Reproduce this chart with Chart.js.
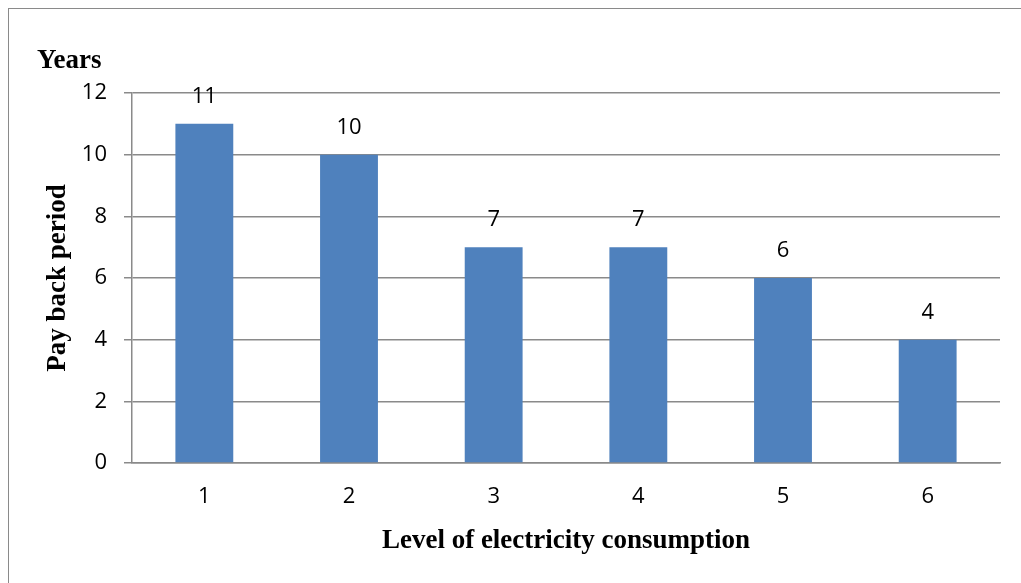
<!DOCTYPE html>
<html>
<head>
<meta charset="utf-8">
<script src="https://cdn.jsdelivr.net/npm/chart.js@4.4.1/dist/chart.umd.min.js"></script>
<style>
  html, body { margin: 0; padding: 0; background: #fff; overflow: hidden; }
  #wrap { position: relative; width: 1021px; height: 583px; }
  #frame { position: absolute; left: 8px; top: 8px; width: 2000px; height: 2000px; border: 1px solid #8a8a8a; }
  #canvas { position: absolute; left: 0; top: 0; }
</style>
</head>
<body>
<div id="wrap">
  <div id="frame"></div>
  <canvas id="canvas" width="1021" height="583"></canvas>
</div>
<script>
const levels = ["1", "2", "3", "4", "5", "6"];
const payback = [11, 10, 7, 7, 6, 4];
const yTicks = [0, 2, 4, 6, 8, 10, 12];

const canvas = document.getElementById("canvas");

// numbers over each bar + the "Years" caption
const labelsPlugin = {
  id: "barLabels",
  afterDatasetsDraw(chart) {
    const ctx = chart.ctx;
    ctx.save();
    ctx.fillStyle = "#000";
    ctx.font = "22px 'Open Sans'";
    ctx.textAlign = "center";
    ctx.textBaseline = "middle";
    chart.getDatasetMeta(0).data.forEach((bar, i) => {
      ctx.fillText(payback[i], bar.x, bar.y - 27);
    });
    ctx.font = "bold 27px 'Liberation Serif'";
    ctx.textAlign = "left";
    ctx.textBaseline = "alphabetic";
    ctx.fillText("Years", 37, 68);
    ctx.restore();
  }
};

const myChart = new Chart(canvas, {
  type: "bar",
  data: {
    labels: levels,
    datasets: [
      {
        label: "Pay back period",
        data: payback,
        backgroundColor: "#4F81BD",
        barPercentage: 0.4,
        categoryPercentage: 1
      }
    ]
  },
  options: {
    responsive: false,
    animation: false,
    layout: { padding: { left: 0, top: 93, right: 21, bottom: 0 } },
    plugins: {
      legend: { display: false },
      tooltip: { enabled: false }
    },
    scales: {
      x: {
        afterFit(scale) { scale.height = 120; },
        grid: { display: false, drawTicks: false },
        border: { display: true, color: "#8a8a8a", width: 1.5 },
        ticks: { color: "#000", font: { family: "'Open Sans'", size: 22 }, padding: 21 },
        title: {
          display: true,
          text: "Level of electricity consumption",
          color: "#000",
          font: { family: "'Liberation Serif'", size: 27, weight: "bold" },
          padding: { top: 26, bottom: 26 }
        }
      },
      y: {
        min: 0,
        max: 12,
        afterFit(scale) { scale.width = 132; },
        afterBuildTicks(scale) { scale.ticks = yTicks.map(v => ({ value: v })); },
        grid: { color: "#8a8a8a", lineWidth: 1.5, tickLength: 8 },
        border: { display: true, color: "#8a8a8a", width: 1.5 },
        ticks: { color: "#000", font: { family: "'Open Sans'", size: 22 }, padding: 17 },
        title: {
          display: true,
          text: "Pay back period",
          color: "#000",
          font: { family: "'Liberation Serif'", size: 27, weight: "bold" },
          padding: { top: 42, bottom: 42 }
        }
      }
    }
  },
  plugins: [labelsPlugin]
});
</script>
</body>
</html>
